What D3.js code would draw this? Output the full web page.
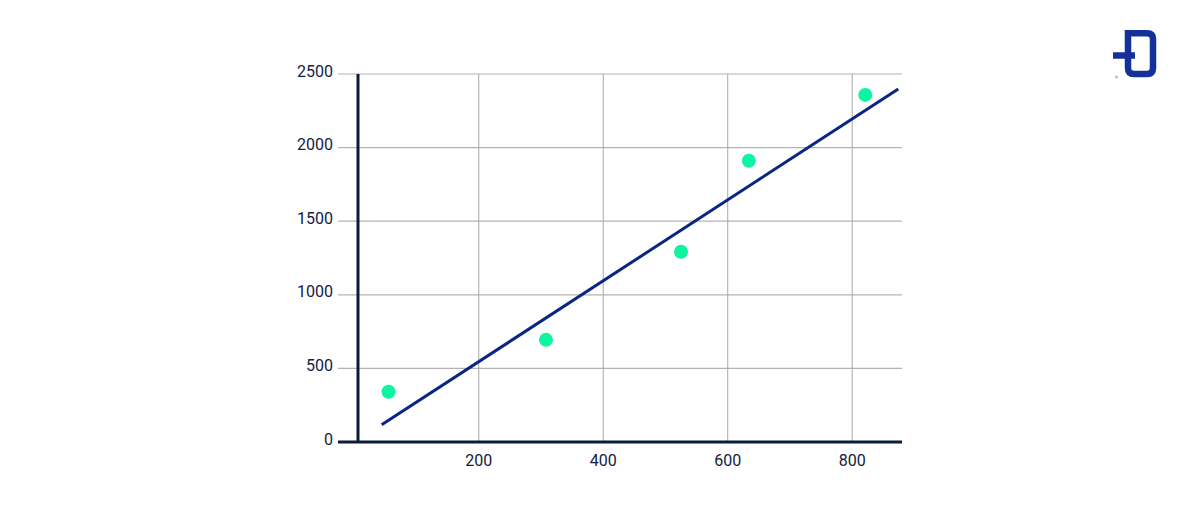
<!DOCTYPE html>
<html>
<head>
<meta charset="utf-8">
<script src="https://cdn.jsdelivr.net/npm/d3@7"></script>
<style>
  html, body { margin: 0; padding: 0; background: #ffffff; }
  svg { display: block; font-family: Roboto, "Open Sans", sans-serif; }
</style>
</head>
<body>
<svg id="chart" width="1200" height="521"></svg>
<script>
// ---- data ----
const pointX = [55, 308, 525, 634, 821];
const pointY = [341, 694, 1292, 1911, 2358];
const fitX = [44, 874];
const fitY = [117, 2398];
const xTicks = [200, 400, 600, 800];
const yTicks = [0, 500, 1000, 1500, 2000, 2500];

const svg = d3.select("#chart");
const x = d3.scaleLinear().domain([6, 880]).range([358, 902]);
const y = d3.scaleLinear().domain([0, 2500]).range([442, 74]);

const gridLeft = 338, gridRight = 902;
const textColor = "#13213f";
const axisColor = "#0b1c3a";

// horizontal gridlines
svg.append("g").selectAll("line").data(yTicks.filter(d => d > 0)).join("line")
  .attr("x1", gridLeft).attr("x2", gridRight)
  .attr("y1", d => y(d)).attr("y2", d => y(d))
  .attr("stroke", "#b3b3b3").attr("stroke-width", 1.2);

// vertical gridlines
svg.append("g").selectAll("line").data(xTicks).join("line")
  .attr("x1", d => x(d)).attr("x2", d => x(d))
  .attr("y1", y(2500)).attr("y2", y(0))
  .attr("stroke", "#a8a8a8").attr("stroke-width", 1);

// axes lines
svg.append("line").attr("x1", gridLeft).attr("x2", gridRight)
  .attr("y1", y(0)).attr("y2", y(0))
  .attr("stroke", axisColor).attr("stroke-width", 3);
svg.append("line").attr("x1", x(6)).attr("x2", x(6))
  .attr("y1", y(2500)).attr("y2", y(0) + 1)
  .attr("stroke", axisColor).attr("stroke-width", 3);

// y tick labels
svg.append("g").selectAll("text").data(yTicks).join("text")
  .attr("x", 333).attr("y", d => y(d) + 2.5)
  .attr("text-anchor", "end")
  .attr("fill", textColor).attr("font-size", 16)
  .text(d => d);

// x tick labels
svg.append("g").selectAll("text").data(xTicks).join("text")
  .attr("x", d => x(d)).attr("y", 466)
  .attr("text-anchor", "middle")
  .attr("fill", textColor).attr("font-size", 16)
  .text(d => d);

// regression line
const fit = fitX.map((v, i) => [v, fitY[i]]);
svg.append("path")
  .attr("d", d3.line().x(d => x(d[0])).y(d => y(d[1]))(fit))
  .attr("fill", "none").attr("stroke", "#0a2685").attr("stroke-width", 3);

// points
svg.append("g").selectAll("circle").data(pointX.map((v, i) => [v, pointY[i]])).join("circle")
  .attr("cx", d => x(d[0])).attr("cy", d => y(d[1]))
  .attr("r", 7).attr("fill", "#0ef5a2");

// logo
const logo = svg.append("g").attr("fill", "none").attr("stroke", "#14309a").attr("stroke-width", 6.5);
logo.append("path").attr("d",
  "M1128,33.3 L1147,33.3 Q1153,33.3 1153,39 L1153,68 Q1153,74 1147,74 L1134,74 Q1128,74 1128,68 Z");
logo.append("line").attr("x1", 1113).attr("x2", 1135).attr("y1", 55.5).attr("y2", 55.5);
svg.append("circle").attr("cx", 1116.5).attr("cy", 77).attr("r", 1.6).attr("fill", "#b8bde0");
</script>
</body>
</html>
